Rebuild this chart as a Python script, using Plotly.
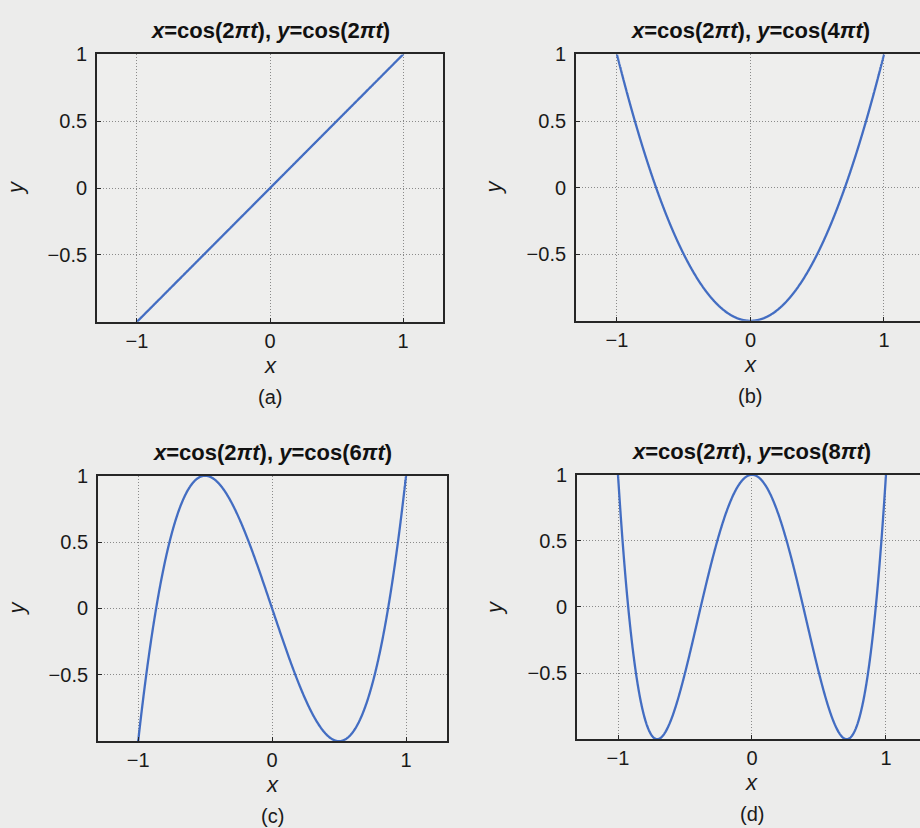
import numpy as np
import plotly.graph_objects as go

# Frequency multipliers: x = cos(2*pi*t), y = cos(2*pi*k*t)
K_VALUES = [1, 2, 3, 4]
PANEL_TAGS = ["(a)", "(b)", "(c)", "(d)"]
X_TICKS = [-1, 0, 1]
Y_TICKS = [-0.5, 0, 0.5, 1]
X_TICK_TEXT = ["\u22121", "0", "1"]
Y_TICK_TEXT = ["\u22120.5", "0", "0.5", "1"]

# parameter t over half a period traces x from 1 to -1 once
t = np.linspace(0.0, 0.5, 1201)

W, H = 920, 828
FONT = "Liberation Sans, Arial, Helvetica, sans-serif"
LINE_BLUE = "#436dc2"
FRAME = "#262626"

# plot-area boxes in pixels: left, right, top, bottom, x-range
BOXES = [
    (97, 443, 44, 315, [-1.30, 1.30]),
    (576, 920, 44, 314, [-1.307, 1.27]),
    (98, 447, 471, 740, [-1.30, 1.306]),
    (577, 920, 470, 738, [-1.306, 1.254]),
]


def px(xp):
    return xp / W


def py(yp):
    return 1 - yp / H


fig = go.Figure()
annotations = []

for i, (k, tag, box) in enumerate(zip(K_VALUES, PANEL_TAGS, BOXES)):
    left, right, top, bottom, xr = box
    n = "" if i == 0 else str(i + 1)
    xa, ya = "x" + n, "y" + n

    x = np.cos(2 * np.pi * t)
    y = np.cos(2 * np.pi * k * t)
    fig.add_trace(go.Scatter(
        x=x, y=y, mode="lines", xaxis=xa, yaxis=ya,
        line=dict(color=LINE_BLUE, width=2.3, simplify=False),
        showlegend=False, hoverinfo="skip", cliponaxis=True,
    ))

    full_right = right < W
    common = dict(
        showline=True, linecolor=FRAME, linewidth=1.8,
        ticks="inside", ticklen=4, tickcolor=FRAME, tickwidth=1,
        showgrid=True, gridcolor="#8a8a8a", gridwidth=1, griddash="1px,2px",
        zeroline=False, tickfont=dict(family=FONT, size=20, color="#1a1a1a"),
        fixedrange=True,
    )
    fig.layout["xaxis" + n] = dict(
        common, domain=[px(left), min(px(right), 1.0)], range=xr,
        anchor=ya, mirror=True, tickvals=X_TICKS, ticktext=X_TICK_TEXT,
        ticklabelstandoff=0,
    )
    fig.layout["yaxis" + n] = dict(
        common, domain=[py(bottom), py(top)], range=[-1, 1],
        anchor=xa, mirror=full_right, tickvals=Y_TICKS, ticktext=Y_TICK_TEXT,
        ticklabelstandoff=4,
    )

    # data x=0 sits at the horizontal centre of the axis range
    cx = left + (0 - xr[0]) / (xr[1] - xr[0]) * (right - left)
    cy = (top + bottom) / 2

    annotations.append(dict(
        text=f"<b><i>x</i>=cos(2<i>\u03c0t</i>), <i>y</i>=cos({2 * k}<i>\u03c0t</i>)</b>",
        x=px(cx), y=py(top - 24), xref="paper", yref="paper",
        xanchor="center", yanchor="middle", showarrow=False,
        font=dict(family=FONT, size=22, color="#111111"),
    ))
    annotations.append(dict(
        text="<i>x</i>", x=px(cx), y=py(bottom + 44), xref="paper", yref="paper",
        xanchor="center", yanchor="middle", showarrow=False,
        font=dict(family=FONT, size=22, color="#1a1a1a"),
    ))
    annotations.append(dict(
        text="<i>y</i>", x=px(left - 82), y=py(cy), xref="paper", yref="paper",
        xanchor="center", yanchor="middle", showarrow=False, textangle=-90,
        font=dict(family=FONT, size=22, color="#1a1a1a"),
    ))
    annotations.append(dict(
        text=tag, x=px(cx), y=py(bottom + 76), xref="paper", yref="paper",
        xanchor="center", yanchor="middle", showarrow=False,
        font=dict(family=FONT, size=20, color="#1a1a1a"),
    ))

fig.update_layout(
    width=W, height=H, margin=dict(l=0, r=0, t=0, b=0),
    paper_bgcolor="#ececeb", plot_bgcolor="#eeeeed",
    annotations=annotations, showlegend=False,
)

fig.write_html(
    "out.html",
    config={"displayModeBar": False},
    post_script="document.body.style.margin='0';document.body.style.background='#ececeb';",
)
